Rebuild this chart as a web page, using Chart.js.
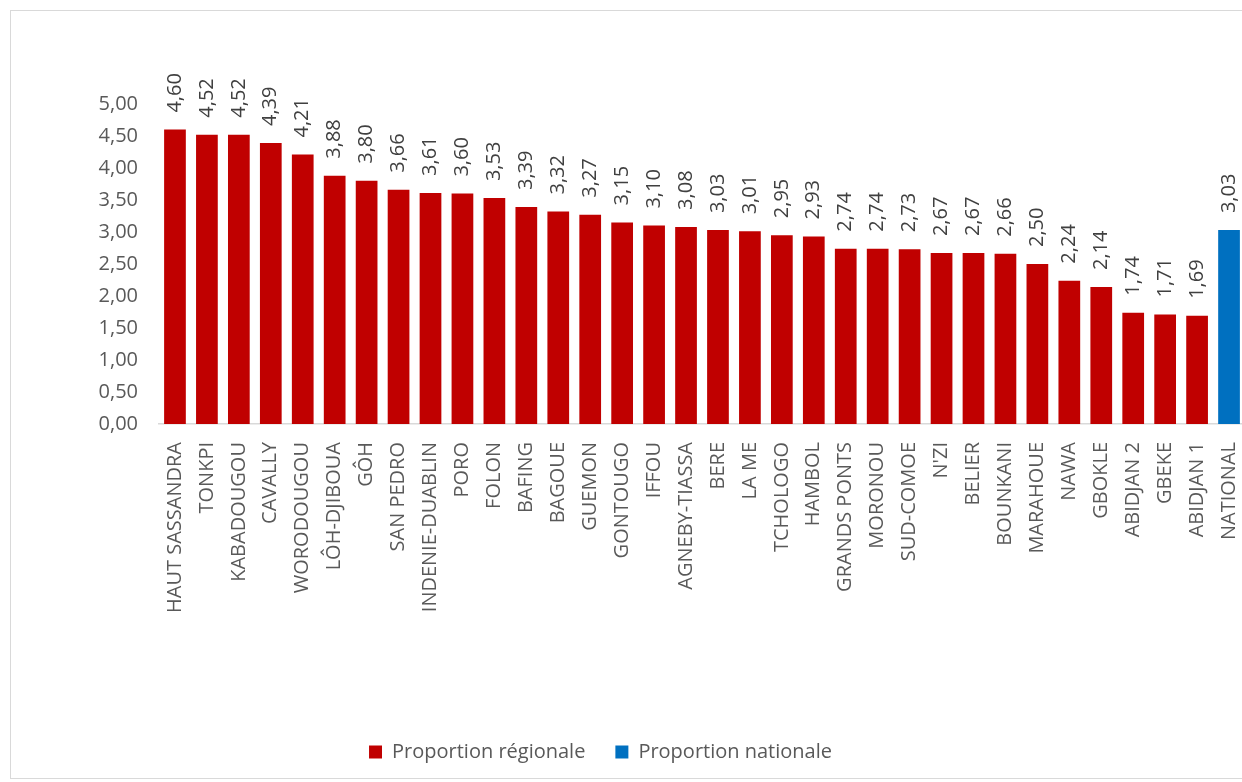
<!DOCTYPE html>
<html><head><meta charset="utf-8">
<script src="https://cdn.jsdelivr.net/npm/chart.js@4/dist/chart.umd.min.js"></script>
<style>
html,body{margin:0;padding:0;background:#fff;overflow:hidden;width:1242px;height:782px;}
#wrap{position:absolute;left:0;top:0;width:1250px;height:782px;}
#frame{position:absolute;left:10px;top:10px;width:1250px;height:769px;border:1px solid #d9d9d9;box-sizing:border-box;}
canvas{position:absolute;left:0;top:0;}
</style></head>
<body>
<div id="wrap"><div id="frame"></div><canvas id="c" width="1250" height="782"></canvas></div>
<script>
const categories = ["HAUT SASSANDRA","TONKPI","KABADOUGOU","CAVALLY","WORODOUGOU","LÔH-DJIBOUA","GÔH","SAN PEDRO","INDENIE-DUABLIN","PORO","FOLON","BAFING","BAGOUE","GUEMON","GONTOUGO","IFFOU","AGNEBY-TIASSA","BERE","LA ME","TCHOLOGO","HAMBOL","GRANDS PONTS","MORONOU","SUD-COMOE","N'ZI","BELIER","BOUNKANI","MARAHOUE","NAWA","GBOKLE","ABIDJAN 2","GBEKE","ABIDJAN 1","NATIONAL"];
const regionalValues = [4.60,4.52,4.52,4.39,4.21,3.88,3.80,3.66,3.61,3.60,3.53,3.39,3.32,3.27,3.15,3.10,3.08,3.03,3.01,2.95,2.93,2.74,2.74,2.73,2.67,2.67,2.66,2.50,2.24,2.14,1.74,1.71,1.69,null];
const nationalValues = [null,null,null,null,null,null,null,null,null,null,null,null,null,null,null,null,null,null,null,null,null,null,null,null,null,null,null,null,null,null,null,null,null,3.03];
const seriesNames = ["Proportion régionale","Proportion nationale"];
const yTicks = [0,0.5,1,1.5,2,2.5,3,3.5,4,4.5,5];

const fmt = v => v.toFixed(2).replace('.', ',');
const FONT = "'Open Sans', sans-serif";

const valueLabels = {
  id: 'valueLabels',
  afterDatasetsDraw(chart) {
    const ctx = chart.ctx;
    ctx.save();
    ctx.font = "20px " + FONT;
    ctx.fillStyle = '#404040';
    ctx.textAlign = 'left';
    ctx.textBaseline = 'middle';
    chart.data.datasets.forEach((ds, di) => {
      const meta = chart.getDatasetMeta(di);
      meta.data.forEach((el, i) => {
        const v = ds.data[i];
        if (v === null || v === undefined) return;
        ctx.save();
        ctx.translate(el.x, el.y - 17);
        ctx.rotate(-Math.PI / 2);
        ctx.fillText(fmt(v), 0, 0);
        ctx.restore();
      });
    });
    ctx.restore();
  }
};

const legendShift = {
  id: 'legendShift',
  afterLayout(chart) {
    if (chart.legend) { chart.legend.left -= 22; chart.legend.right -= 22; }
  }
};

new Chart(document.getElementById('c'), {
  type: 'bar',
  data: {
    labels: categories,
    datasets: [
      { label: seriesNames[0], data: regionalValues, backgroundColor: '#C00000', borderWidth: 0, barPercentage: 0.68, categoryPercentage: 1 },
      { label: seriesNames[1], data: nationalValues, backgroundColor: '#0070C0', borderWidth: 0, barPercentage: 0.68, categoryPercentage: 1 }
    ]
  },
  options: {
    responsive: false,
    animation: false,
    layout: { padding: { top: 104, left: 0, right: 5, bottom: 10 } },
    plugins: {
      legend: {
        position: 'bottom',
        labels: { boxWidth: 13, boxHeight: 13, padding: 30, color: '#595959', font: { family: FONT, size: 20 } }
      },
      tooltip: { enabled: false }
    },
    scales: {
      x: {
        stacked: true,
        grid: { display: false },
        border: { display: true, color: '#d9d9d9', width: 1.5 },
        ticks: { autoSkip: false, minRotation: 90, maxRotation: 90, padding: 10, color: '#595959', font: { family: FONT, size: 20 } },
        afterFit: s => { s.height = 288; s.paddingLeft = 0; s.paddingRight = 0; }
      },
      y: {
        stacked: true,
        min: 0, max: 5,
        grid: { display: false },
        border: { display: false },
        afterBuildTicks: s => { s.ticks = yTicks.map(v => ({ value: v })); },
        ticks: { padding: 13, color: '#595959', font: { family: FONT, size: 20 }, callback: v => fmt(v) },
        afterFit: s => { s.width = 159; }
      }
    }
  },
  plugins: [valueLabels, legendShift]
});
</script>
</body></html>
